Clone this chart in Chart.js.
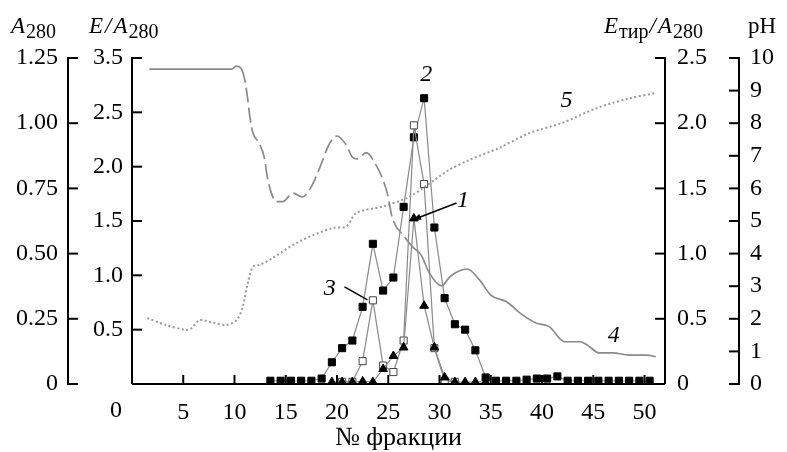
<!DOCTYPE html>
<html>
<head>
<meta charset="utf-8">
<script src="https://cdn.jsdelivr.net/npm/chart.js@4.4.1/dist/chart.umd.min.js"></script>
<style>html,body{margin:0;padding:0;background:#fff;}</style>
</head>
<body>
<canvas id="myChart" width="787" height="452"></canvas>
<script>
// --- data ---
// curve 4: A280 profile
var frac4 = [1.7, 9.7, 10.2, 10.65, 11, 11.3, 11.5, 11.8, 12.4, 12.9, 13.2, 13.6, 14.1, 14.7, 15.7, 16.6, 17.5, 18.3, 19.3, 20.0,
  20.9, 21.5, 22, 22.85, 23.8, 24.5, 24.9, 25.4, 26.6, 27.4, 28.2, 29.0, 30.2, 31, 31.95, 32.7, 33.9, 35, 36.5, 38.1,
  39.4, 40.7, 42.2, 43.7, 44.4, 45.6, 46.9, 48.5, 50.2, 51.1];
var a280 = [1.207, 1.207, 1.219, 1.210, 1.166, 1.089, 1.024, 0.962, 0.924, 0.870, 0.794, 0.732, 0.699, 0.699, 0.732, 0.717, 0.757, 0.828, 0.924, 0.951,
  0.916, 0.870, 0.863, 0.887, 0.840, 0.782, 0.732, 0.637, 0.564, 0.525, 0.495, 0.426, 0.376, 0.411, 0.434, 0.441, 0.399, 0.341, 0.316, 0.265,
  0.234, 0.220, 0.162, 0.162, 0.150, 0.119, 0.119, 0.111, 0.111, 0.105];

// curve 5: pH gradient
var frac5 = [1.5, 3.3, 5.3, 5.8, 6.6, 7.9, 9.2, 10.2, 10.8, 11.3, 11.8, 12.4, 13.4, 16.3, 19.6, 20.9, 21.9, 24.4, 27.1, 30.9,
  32.9, 35.8, 38.8, 42, 45.3, 48.5, 51];
var ph = [2.02, 1.81, 1.66, 1.71, 1.96, 1.88, 1.81, 1.96, 2.37, 3.10, 3.60, 3.65, 3.80, 4.37, 4.79, 4.83, 5.25, 5.44, 5.75, 6.56,
  6.87, 7.24, 7.70, 8.01, 8.46, 8.76, 8.92];

// curve 2: filled squares (E/A280)
var frac2 = [13.5, 14.5, 15.5, 16.5, 17.5, 18.5, 19.5, 20.5, 21.5, 22.5, 23.5, 24.5, 25.5, 26.5, 27.5, 28.5, 29.5, 30.5, 31.5, 32.5,
  33.5, 34.5, 35.5, 36.5, 37.5, 38.5, 39.5, 40.5, 41.5, 42.5, 43.5, 44.5, 45.5, 46.5, 47.5, 48.5, 49.5, 50.5];
var act2 = [0.03, 0.03, 0.03, 0.03, 0.03, 0.05, 0.2, 0.33, 0.40, 0.71, 1.29, 0.86, 0.98, 1.63, 2.27, 2.63, 1.44, 0.79, 0.55, 0.50,
  0.31, 0.06, 0.03, 0.03, 0.03, 0.04, 0.05, 0.05, 0.07, 0.03, 0.03, 0.03, 0.03, 0.03, 0.03, 0.03, 0.03, 0.03];

// curve 3: open squares (E/A280)
var frac3 = [20.5, 21.5, 22.5, 23.5, 24.5, 25.5, 26.5, 27.5, 28.5, 29.5, 30.5, 31.5];
var act3 = [0.02, 0.02, 0.21, 0.77, 0.17, 0.11, 0.40, 2.38, 1.84, 0.33, 0.03, 0.02];

// curve 1: triangles (E_tyr/A280)
var frac1 = [19.5, 20.5, 21.5, 22.5, 23.5, 24.5, 25.5, 26.5, 27.5, 28.5, 29.5, 30.5, 31.5, 32.5, 33.5, 34.5];
var act1 = [0.015, 0.015, 0.015, 0.02, 0.015, 0.115, 0.215, 0.28, 1.27, 0.60, 0.28, 0.05, 0.015, 0.015, 0.015, 0.015];

// tick labels
var xLabels = ['0', '5', '10', '15', '20', '25', '30', '35', '40', '45', '50'];
var aLabels = ['0', '0.25', '0.50', '0.75', '1.00', '1.25'];
var eLabels = ['', '0.5', '1.0', '1.5', '2.0', '2.5', '3.5'];
var tLabels = ['0', '0.5', '1.0', '1.5', '2.0', '2.5'];
var phLabels = ['0', '1', '2', '3', '4', '5', '6', '7', '8', '9', '10'];

// curve numbers: [text, fraction, pH-units]
var notes = [['2', 28.7, 9.3], ['5', 42.4, 8.5], ['4', 47.0, 1.29], ['1', 32.3, 5.43], ['3', 19.3, 2.73]];
var leaders = [[31.66, 5.55, 27.37, 5.03, true], [20.73, 2.98, 22.98, 2.58, false]];

function pts(xs, ys) {
  return xs.map(function(x, i) { return { x: x, y: ys[i] }; });
}

var SERIF = '"Liberation Serif", "Times New Roman", Tinos, Times, serif';
var GREY = '#8a8a8a';

var axesPlugin = {
  id: 'axesPlugin',
  afterDraw: function(chart) {
    var ctx = chart.ctx, s = chart.scales, area = chart.chartArea;
    var top = area.top, bottom = area.bottom;
    ctx.save();
    ctx.strokeStyle = '#000';
    ctx.lineWidth = 2;
    function seg(x1, y1, x2, y2) {
      ctx.beginPath(); ctx.moveTo(x1, y1); ctx.lineTo(x2, y2); ctx.stroke();
    }
    // x axis
    seg(area.left, bottom, area.right, bottom);
    s.x.ticks.forEach(function(t) {
      if (t.value > 0) {
        var px = s.x.getPixelForValue(t.value);
        seg(px, bottom, px, bottom - 9);
      }
    });
    // A280 axis
    var xa = s.yA.right;
    seg(xa, top, xa, bottom);
    s.yA.ticks.forEach(function(t) {
      var py = s.yA.getPixelForValue(t.value);
      seg(xa - 1, py, xa + 10, py);
    });
    // E/A280 axis
    var xe = area.left;
    seg(xe, top, xe, bottom);
    s.yE.ticks.forEach(function(t) {
      if (t.value > 0) {
        var py = s.yE.getPixelForValue(t.value);
        seg(xe - 1, py, xe + 10, py);
      }
    });
    // Etyr/A280 axis
    var xt = area.right;
    seg(xt, top, xt, bottom);
    s.yT.ticks.forEach(function(t) {
      if (t.value > 0) {
        var py = s.yT.getPixelForValue(t.value);
        seg(xt + 1, py, xt - 10, py);
      }
    });
    // pH axis
    var xp = s.yPH.left;
    seg(xp, top, xp, bottom);
    s.yPH.ticks.forEach(function(t) {
      var py = s.yPH.getPixelForValue(t.value);
      seg(xp + 1, py, xp - 10, py);
    });

    // x "0" label sits left of the axis corner
    ctx.fillStyle = '#000';
    ctx.font = '24px ' + SERIF;
    ctx.textAlign = 'center';
    ctx.textBaseline = 'top';
    ctx.fillText(xLabels[0], s.x.getPixelForValue(0) - 16, bottom + 15);

    // axis titles
    ctx.textAlign = 'left';
    ctx.textBaseline = 'alphabetic';
    function piece(txt, x, y, font) {
      ctx.font = font;
      ctx.fillText(txt, x, y);
      return x + ctx.measureText(txt).width;
    }
    var big = 'italic 23px ' + SERIF, sub = '20px ' + SERIF;
    var x = piece('A', 11, 33, big);
    piece('280', x + 1, 38, sub);
    x = piece('E', 89, 33, big);
    x = piece('/', x + 2, 33, big);
    x = piece('A', x + 2, 33, big);
    piece('280', x + 1, 38, sub);
    x = piece('E', 604, 33, big);
    x = piece('тир', x + 1, 38, sub);
    x = piece('/', x + 1, 33, big);
    x = piece('A', x + 2, 33, big);
    piece('280', x + 1, 38, sub);
    piece('pH', 748, 33, '23px ' + SERIF);

    // curve numbers
    ctx.font = 'italic 24px ' + SERIF;
    ctx.textAlign = 'center';
    notes.forEach(function(n) {
      ctx.fillText(n[0], s.x.getPixelForValue(n[1]), s.yPH.getPixelForValue(n[2]));
    });
    ctx.lineWidth = 1.5;
    leaders.forEach(function(l) {
      var x1 = s.x.getPixelForValue(l[0]), y1 = s.yPH.getPixelForValue(l[1]);
      var x2 = s.x.getPixelForValue(l[2]), y2 = s.yPH.getPixelForValue(l[3]);
      seg(x1, y1, x2, y2);
      if (l[4]) {
        var ang = Math.atan2(y2 - y1, x2 - x1);
        ctx.beginPath();
        ctx.moveTo(x2, y2);
        ctx.lineTo(x2 - 9 * Math.cos(ang - 0.35), y2 - 9 * Math.sin(ang - 0.35));
        ctx.lineTo(x2 - 9 * Math.cos(ang + 0.35), y2 - 9 * Math.sin(ang + 0.35));
        ctx.closePath();
        ctx.fill();
      }
    });
    ctx.restore();
  }
};

function yAxis(pos, weight, min, max, step, labels, width, pad) {
  return {
    type: 'linear', position: pos, weight: weight, min: min, max: max,
    grid: { display: false, drawTicks: false },
    border: { display: false },
    ticks: {
      stepSize: step, padding: pad, color: '#000',
      font: { family: SERIF, size: 24 },
      callback: function(v, i) { return labels[i]; }
    },
    afterFit: function(scale) { scale.width = width; }
  };
}

var chart = document.getElementById('myChart');
var myChart = new Chart(chart, {
  type: 'scatter',
  data: {
    datasets: [
      {
        label: '4', data: pts(frac4, a280), yAxisID: 'yA', showLine: true,
        borderColor: GREY, borderWidth: 1.7, pointRadius: 0, cubicInterpolationMode: 'monotone',
        segment: {
          borderDash: function(c) {
            return (c.p0.parsed.x >= 10.6 && c.p1.parsed.x <= 26.7) ? [15, 5] : undefined;
          }
        }
      },
      {
        label: '5', data: pts(frac5, ph), yAxisID: 'yPH', showLine: true,
        borderColor: '#9a9a9a', borderWidth: 2, borderDash: [2, 2.5], pointRadius: 0, tension: 0.3
      },
      {
        label: '1', data: pts(frac1, act1), yAxisID: 'yT', showLine: true,
        borderColor: GREY, borderWidth: 1.2, pointStyle: 'triangle', pointRadius: 5,
        pointBackgroundColor: '#000', pointBorderColor: '#000', pointBorderWidth: 1
      },
      {
        label: '3', data: pts(frac3, act3), yAxisID: 'yE', showLine: true,
        borderColor: GREY, borderWidth: 1.2, pointStyle: 'rect', pointRadius: 5,
        pointBackgroundColor: '#fff', pointBorderColor: '#444', pointBorderWidth: 1
      },
      {
        label: '2', data: pts(frac2, act2), yAxisID: 'yE', showLine: true,
        borderColor: GREY, borderWidth: 1.2, pointStyle: 'rect', pointRadius: 5,
        pointBackgroundColor: '#000', pointBorderColor: '#000', pointBorderWidth: 1
      }
    ]
  },
  options: {
    responsive: false,
    animation: false,
    layout: { padding: { top: 58, left: 0, right: 0, bottom: 0 } },
    plugins: { legend: { display: false }, tooltip: { enabled: false } },
    scales: {
      x: {
        type: 'linear', position: 'bottom', min: 0, max: 52,
        grid: { display: false, drawTicks: false },
        border: { display: false },
        ticks: {
          stepSize: 5, includeBounds: false, padding: 14, color: '#000', maxRotation: 0,
          font: { family: SERIF, size: 24 },
          callback: function(v, i) { return i === 0 ? '' : xLabels[i]; }
        },
        title: {
          display: true, text: '№ фракции', color: '#000',
          font: { family: SERIF, size: 26 }, padding: { top: 0, bottom: -2 }
        },
        afterFit: function(scale) { scale.height = 68; }
      },
      yA: yAxis('left', 1, 0, 1.25, 0.25, aLabels, 68, 10),
      yE: yAxis('left', 0, 0, 3, 0.5, eLabels, 64, 9),
      yT: yAxis('right', 0, 0, 2.5, 0.5, tLabels, 74, 12),
      yPH: yAxis('right', 1, 0, 10, 1, phLabels, 48, 11)
    }
  },
  plugins: [axesPlugin]
});
</script>
</body>
</html>
